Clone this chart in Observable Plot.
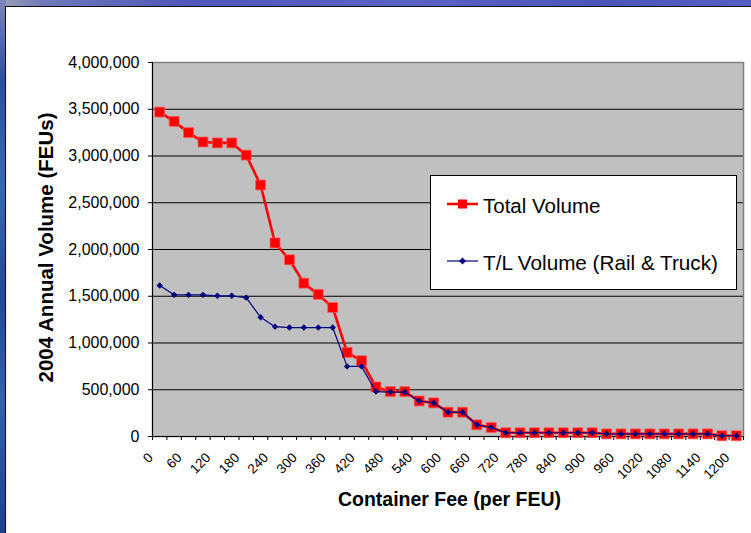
<!DOCTYPE html>
<html>
<head>
<meta charset="utf-8">
<script src="https://cdn.jsdelivr.net/npm/d3@7"></script>
<script src="https://cdn.jsdelivr.net/npm/@observablehq/plot@0.6"></script>
<style>
  html, body { margin: 0; padding: 0; width: 751px; height: 533px; overflow: hidden; }
  #bg { position: absolute; left: 0; top: 0; width: 751px; height: 533px;
        background: linear-gradient(90deg, #9aa0b8 0%, #6f78b8 6%, #4f58b8 25%, #5a62c2 55%, #4b55b8 80%, #5560c0 100%); }
  #leftstrip { position: absolute; left: 0; top: 0; width: 6px; height: 533px;
        background: linear-gradient(180deg, #7d86b8 0%, #2d4f9e 15%, #3a66b8 35%, #24479a 55%, #3560ae 75%, #1f3f8c 100%); }
  #panel { position: absolute; left: 5px; top: 6px; width: 800px; height: 600px; background: #ffffff;
        border-left: 1.5px solid #111; border-top: 1.5px solid #111; }
  #chart { position: absolute; left: 0; top: 0; }
  #legend { position: absolute; left: 430px; top: 175px; width: 305px; height: 113px;
        background: #ffffff; border: 1px solid #000; }
  #legend svg { position: absolute; left: 0; top: 0; overflow: visible; }
</style>
</head>
<body>
<div id="bg"></div>
<div id="leftstrip"></div>
<div id="panel"></div>
<div id="chart"></div>
<div id="legend"></div>
<script>
// Categories: container fee (per FEU)
const fees = [0, 30, 60, 90, 120, 150, 180, 210, 240, 270, 300, 330, 360, 390, 420, 450, 480, 510, 540, 570,
              600, 630, 660, 690, 720, 750, 780, 810, 840, 870, 900, 930, 960, 990, 1020, 1050, 1080, 1110, 1140, 1170, 1200];

// Series: Total Volume (FEUs)
const totalVolume = [3470000, 3370000, 3250000, 3150000, 3140000, 3140000, 3010000, 2690000, 2070000, 1890000,
                     1640000, 1520000, 1380000, 900000, 810000, 530000, 480000, 480000, 380000, 360000,
                     260000, 260000, 125000, 96000, 40000, 40000, 40000, 40000, 40000, 40000,
                     40000, 28000, 28000, 28000, 28000, 28000, 28000, 28000, 28000, 8000, 8000];

// Series: T/L Volume (Rail & Truck)
const tlVolume = [1615000, 1515000, 1515000, 1515000, 1505000, 1505000, 1485000, 1275000, 1175000, 1165000,
                  1165000, 1165000, 1165000, 750000, 750000, 480000, 475000, 475000, 380000, 360000,
                  260000, 260000, 125000, 96000, 40000, 40000, 40000, 40000, 40000, 40000,
                  40000, 28000, 28000, 28000, 28000, 28000, 28000, 28000, 28000, 8000, 8000];

// Tick labels
const yTicks = [0, 500000, 1000000, 1500000, 2000000, 2500000, 3000000, 3500000, 4000000];
const xLabels = ["0", "60", "120", "180", "240", "300", "360", "420", "480", "540", "600", "660", "720", "780",
                 "840", "900", "960", "1020", "1080", "1140", "1200"];

const seriesNames = ["Total Volume", "T/L Volume (Rail & Truck)"];
const xTitle = "Container Fee (per FEU)";
const yTitle = "2004 Annual Volume (FEUs)";

const data = fees.map((f, i) => ({fee: f, total: totalVolume[i], tl: tlVolume[i]}));
const halfStep = 15;
const xEdges = fees.map(f => f - halfStep).concat([fees[fees.length - 1] + halfStep]);

const font = "Arial, 'Liberation Sans', sans-serif";

const chart = Plot.plot({
  width: 751,
  height: 533,
  marginLeft: 152,
  marginRight: 8,
  marginTop: 62,
  marginBottom: 97,
  style: {background: "transparent", fontFamily: font, color: "#000", overflow: "visible"},
  x: {type: "linear", domain: [fees[0] - halfStep, fees[fees.length - 1] + halfStep]},
  y: {domain: [0, 4000000]},
  marks: [
    Plot.frame({fill: "#c0c0c0", stroke: null}),
    Plot.gridY(yTicks.slice(1, -1), {stroke: "#000", strokeOpacity: 1, strokeWidth: 1}),
    Plot.frame({stroke: "#808080", strokeWidth: 1.5}),
    Plot.ruleX([xEdges[0]], {stroke: "#000", strokeWidth: 1}),
    Plot.ruleY([0], {stroke: "#000", strokeWidth: 1}),
    Plot.axisY(yTicks, {tickSize: 4, tickPadding: 9, tickFormat: d3.format(","), fontSize: 16,
                        stroke: "#000", fill: "#000", label: null}),
    Plot.axisX(xEdges, {tickSize: 4, tickFormat: () => "", stroke: "#000", label: null}),
    Plot.text(xLabels, {x: d => +d, text: d => d, frameAnchor: "bottom", dx: -6, dy: 22, rotate: -45,
                        textAnchor: "end", fontSize: 13.5, fill: "#000"}),
    Plot.line(data, {x: "fee", y: "total", stroke: "#ff0000", strokeWidth: 2.6}),
    Plot.dot(data, {x: "fee", y: "total", symbol: "square", r: 5.6, fill: "#ff0000",
                    stroke: "#ff5a5a", strokeWidth: 0.8}),
    Plot.line(data, {x: "fee", y: "tl", stroke: "#000080", strokeWidth: 1.2}),
    Plot.dot(data, {x: "fee", y: "tl", symbol: "diamond2", r: 2.9, fill: "#000080", stroke: "none"}),
    Plot.text([yTitle], {frameAnchor: "left", textAnchor: "middle", dx: -106, dy: -2, rotate: -90,
                         fontSize: 20.5, fontWeight: "bold", fill: "#000"}),
    Plot.text([xTitle], {frameAnchor: "bottom", textAnchor: "middle", dx: 1.5, dy: 69, fontSize: 19.5,
                         fontWeight: "bold", fill: "#000"})
  ]
});
document.getElementById("chart").appendChild(chart);

// Legend (inside the plot area, as in the reference)
const ns = "http://www.w3.org/2000/svg";
const lsvg = document.createElementNS(ns, "svg");
lsvg.setAttribute("width", 305);
lsvg.setAttribute("height", 113);
lsvg.innerHTML = `
  <line x1="16" x2="47" y1="28" y2="28" stroke="#ff0000" stroke-width="2.6"/>
  <rect x="27" y="23.5" width="9" height="9" fill="#ff0000"/>
  <text x="52" y="36.5" font-family="${font}" font-size="20.5" fill="#000">${seriesNames[0]}</text>
  <line x1="16" x2="47" y1="85" y2="85" stroke="#000080" stroke-width="1.2"/>
  <path d="M31.5,81.5 L35,85 L31.5,88.5 L28,85 Z" fill="#000080"/>
  <text x="52" y="93.5" font-family="${font}" font-size="20.7" fill="#000">${seriesNames[1].replace("&", "&amp;")}</text>
`;
document.getElementById("legend").appendChild(lsvg);
</script>
</body>
</html>
